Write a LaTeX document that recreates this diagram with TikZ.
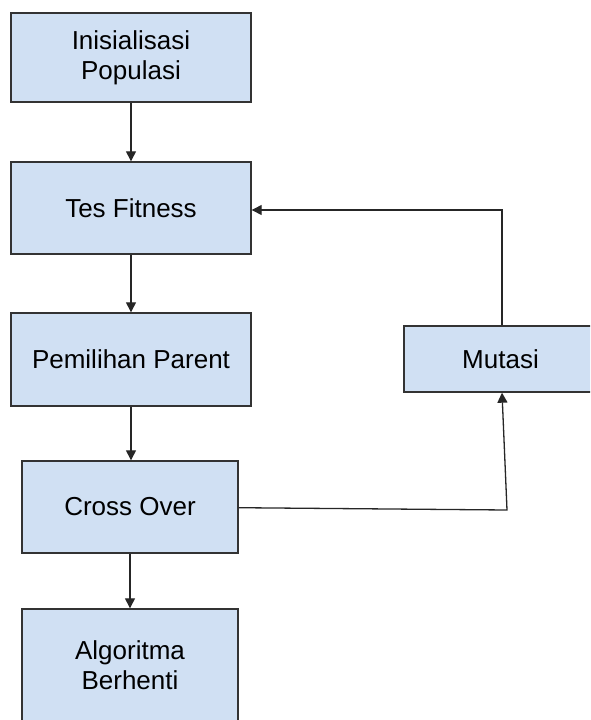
\documentclass[tikz,border=0pt]{standalone}
\usepackage{fontspec}
\setmainfont{Liberation Sans}
\usetikzlibrary{arrows.meta}
\definecolor{boxfill}{HTML}{D0E0F3}
\definecolor{boxline}{HTML}{333333}
\begin{document}
\begin{tikzpicture}[x=1pt,y=-1pt,
  flowbox/.style={draw=boxline, fill=boxfill, line width=1.4pt, inner sep=0pt,
    align=center, font=\fontsize{26}{30}\selectfont, text=black},
  conn/.style={draw=black!85, line width=1.3pt, -{Triangle[length=10pt,width=10pt]}}]
\path[use as bounding box] (0,0) rectangle (590,720);
\clip (0,0) rectangle (590,720);
\node[flowbox, minimum width=240pt, minimum height=89pt] (b1) at (131,57.5) {Inisialisasi\\Populasi};
\node[flowbox, minimum width=240pt, minimum height=92pt] (b2) at (131,208) {Tes Fitness};
\node[flowbox, minimum width=240pt, minimum height=93pt] (b3) at (131,359.5) {Pemilihan Parent};
\node[flowbox, minimum width=216pt, minimum height=92pt] (b4) at (130,507) {Cross Over};
\node[flowbox, minimum width=216pt, minimum height=113pt] (b5) at (130,665.5) {Algoritma\\Berhenti};
\node[flowbox, minimum width=193pt, minimum height=66pt] (mut) at (500.5,359) {Mutasi};
\coordinate (c1) at (507,510);
\draw[conn] (b1.south) -- (b2.north);
\draw[conn] (b2.south) -- (b3.north);
\draw[conn] (b3.south) -- (b3.south |- b4.north);
\draw[conn] (b4.south) -- (b5.north);
\draw[conn] ([xshift=1.5pt]mut.north) |- ([yshift=-2pt]b2.east);
\draw[conn] ([yshift=-0.7pt]b4.east) -- (c1) -- ([xshift=1.5pt]mut.south);
\end{tikzpicture}
\end{document}
